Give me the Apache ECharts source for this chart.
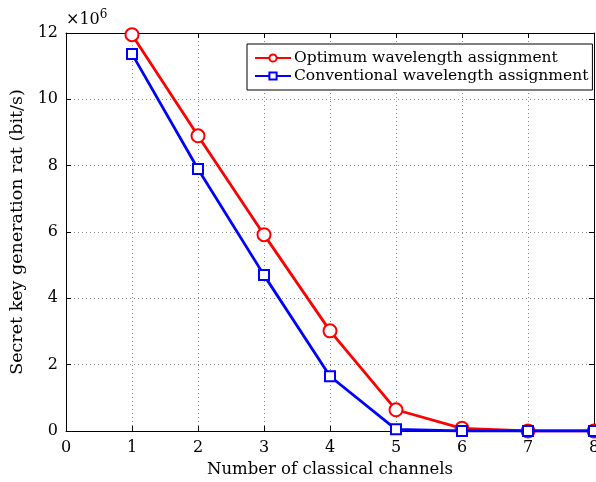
<!DOCTYPE html>
<html><head><meta charset="utf-8">
<script src="https://cdn.jsdelivr.net/npm/echarts@6/dist/echarts.min.js"></script>
<style>html,body{margin:0;padding:0;background:#fff}#c{width:596px;height:482px}</style>
</head><body><div id="c"></div>
<script>
const channels = [1, 2, 3, 4, 5, 6, 7, 8];
const optimum = [11.95, 8.9, 5.92, 3.02, 0.64, 0.08, 0.0, 0.0];
const conventional = [11.37, 7.9, 4.7, 1.65, 0.05, 0.0, 0.0, 0.0];
const xTicks = [0, 1, 2, 3, 4, 5, 6, 7, 8];
const yTicks = [0, 2, 4, 6, 8, 10, 12];
const seriesNames = ['Optimum wavelength assignment', 'Conventional wavelength assignment'];

const FONT = 'DejaVu Serif';
const chart = echarts.init(document.getElementById('c'));
const axisCommon = {
  axisLine: {show: true, onZero: false, lineStyle: {color: '#000', width: 1}},
  axisTick: {show: true, inside: true, length: 5, lineStyle: {color: '#000'}},
  splitLine: {show: false}
};
chart.setOption({
  animation: false,
  grid: {left: 66, right: 2, top: 33, bottom: 51, containLabel: false, outerBoundsMode: 'none'},
  xAxis: [
    Object.assign({}, axisCommon, {type: 'value', min: xTicks[0], max: xTicks[xTicks.length-1], interval: 1,
      name: 'Number of classical channels', nameLocation: 'middle', nameGap: 25,
      nameTextStyle: {fontFamily: FONT, fontSize: 16.5, color: '#000'},
      axisLabel: {fontFamily: FONT, fontSize: 16, color: '#000', margin: 9},
      splitLine: {show: true, lineStyle: {color: '#888', type: [1, 3], width: 1}}}),
    Object.assign({}, axisCommon, {type: 'value', position: 'top', min: 0, max: 8, interval: 1, axisLabel: {show: false}})
  ],
  yAxis: [
    Object.assign({}, axisCommon, {type: 'value', min: yTicks[0], max: yTicks[yTicks.length-1], interval: 2,
      name: 'Secret key generation rat (bit/s)', nameLocation: 'middle', nameGap: 40,
      nameTextStyle: {fontFamily: FONT, fontSize: 17.5, color: '#000'},
      axisLabel: {fontFamily: FONT, fontSize: 16, color: '#000', margin: 8},
      splitLine: {show: true, lineStyle: {color: '#888', type: [1, 3], width: 1}}}),
    Object.assign({}, axisCommon, {type: 'value', position: 'right', min: 0, max: 12, interval: 2, axisLabel: {show: false}})
  ],
  legend: {
    left: 247, top: 44, orient: 'vertical', itemGap: 0, itemWidth: 36, itemHeight: 9,
    borderColor: '#000', borderWidth: 1, borderRadius: 0, backgroundColor: '#fff',
    padding: [5, 4, 5, 7],
    textStyle: {fontFamily: FONT, fontSize: 15.5, lineHeight: 18, color: '#000', padding: [0, 0, 0, -2]},
    data: seriesNames
  },
  graphic: [{
    type: 'text', left: 66, top: 9,
    style: {text: '×10{s|6}', fontFamily: FONT, fontSize: 16, fill: '#000',
      rich: {s: {fontSize: 12, fontFamily: FONT, verticalAlign: 'top', padding: [0,0,10,0]}}}
  }],
  series: [
    {name: seriesNames[0], type: 'line', data: channels.map((c, i) => [c, optimum[i]]),
      color: '#ff0000', lineStyle: {width: 2.8, color: '#ff0000'}, symbol: 'emptyCircle', symbolSize: 13,
      itemStyle: {color: '#ff0000', borderWidth: 2.6, borderColor: '#ff0000'}, z: 2},
    {name: seriesNames[1], type: 'line', data: channels.map((c, i) => [c, conventional[i]]),
      color: '#0000ff', lineStyle: {width: 2.8, color: '#0000ff'}, symbol: 'emptyRect', symbolSize: 10,
      itemStyle: {color: '#0000ff', borderWidth: 2.6, borderColor: '#0000ff'}, z: 3}
  ]
});
</script></body></html>
